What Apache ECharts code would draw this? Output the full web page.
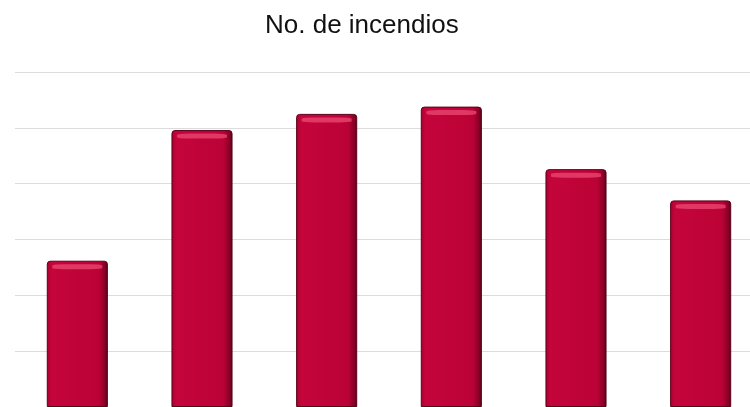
<!DOCTYPE html>
<html>
<head>
<meta charset="utf-8">
<script src="https://cdn.jsdelivr.net/npm/echarts@6/dist/echarts.min.js"></script>
<style>
  html, body { margin: 0; padding: 0; background: #fff; overflow: hidden; }
  #chart { width: 763px; height: 407px; }
</style>
</head>
<body>
<div id="chart"></div>
<script>
// datos (sin etiquetas visibles en el eje)
var categories = ["1", "2", "3", "4", "5", "6"];
var incendios = [262, 496, 525, 538, 426, 370];
var yTicks = [0, 100, 200, 300, 400, 500, 600];

// el grafico original esta recortado por la derecha: el lienzo es algo mas ancho que la ventana
var chart = echarts.init(document.getElementById("chart"));

var barColor = new echarts.graphic.LinearGradient(0, 0, 1, 0, [
  { offset: 0, color: "#a8002f" },
  { offset: 0.08, color: "#c4053b" },
  { offset: 0.85, color: "#bb0236" },
  { offset: 0.95, color: "#8a0028" },
  { offset: 1, color: "#4e0016" }
]);

chart.setOption({
  animation: false,
  title: {
    text: "No. de incendios",
    left: 265,
    top: 13,
    padding: 0,
    textStyle: { fontFamily: "Liberation Sans", fontSize: 26, fontWeight: "normal", color: "#111" }
  },
  grid: { left: 15, right: 0, top: 72, bottom: -1, containLabel: false },
  xAxis: {
    type: "category",
    data: categories,
    axisLine: { show: false },
    axisTick: { show: false },
    axisLabel: { show: false }
  },
  yAxis: {
    type: "value",
    min: yTicks[0],
    max: yTicks[yTicks.length - 1],
    interval: 100,
    axisLine: { show: false },
    axisTick: { show: false },
    axisLabel: { show: false },
    splitLine: { lineStyle: { color: "#dcdcdc", width: 1 } }
  },
  series: [{
    type: "bar",
    data: incendios,
    barWidth: "49%",
    itemStyle: {
      color: barColor,
      borderColor: "#5a0019",
      borderWidth: 1,
      borderRadius: [3, 3, 0, 0]
    }
  }, {
    // brillo superior del bisel
    type: "scatter",
    data: incendios,
    symbol: "roundRect",
    symbolSize: [50, 5],
    symbolOffset: [0, 6],
    itemStyle: { color: "#e8456f", opacity: 0.8 },
    silent: true
  }]
});
</script>
</body>
</html>
